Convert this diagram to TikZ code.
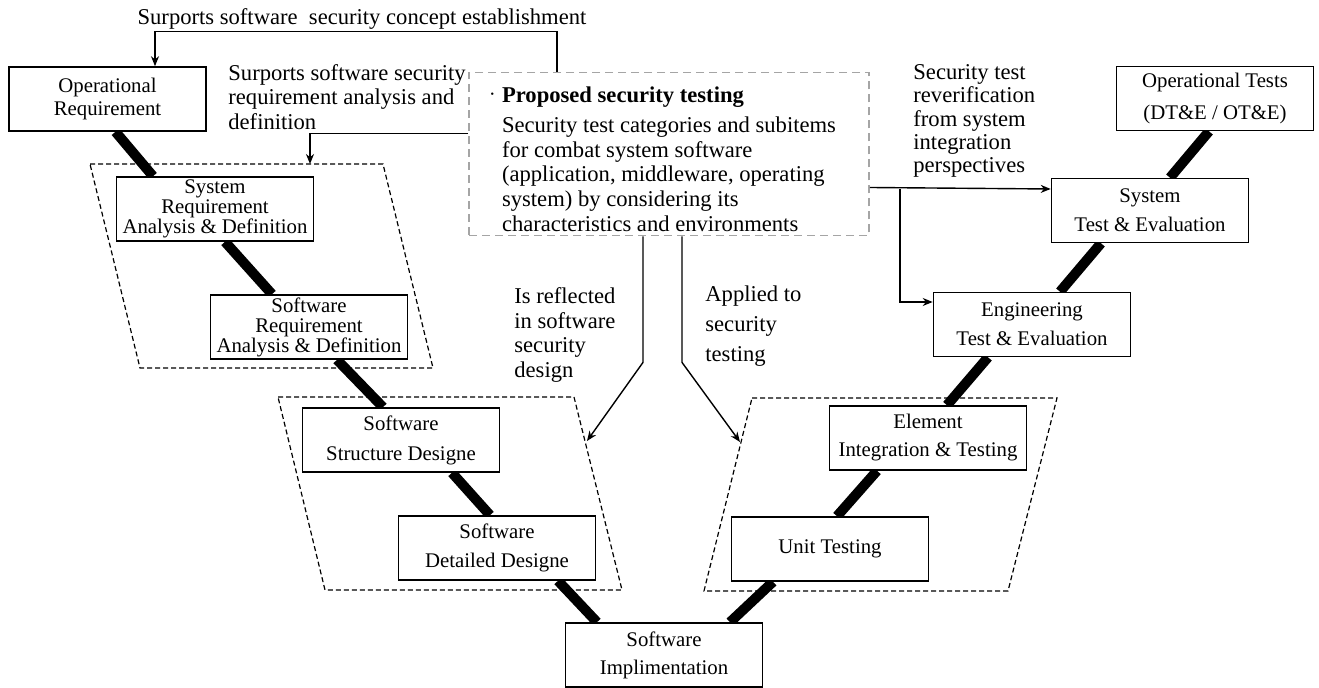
\documentclass[tikz,border=0pt]{standalone}
\usepackage{fontspec}
\setmainfont{Liberation Serif}
\usetikzlibrary{arrows.meta,positioning,calc,backgrounds}
\definecolor{propgray}{RGB}{165,165,165}

\begin{document}
\begin{tikzpicture}[
  x=0.5pt, y=-0.5pt,
  stage/.style={draw, line width=0.8pt, fill=white, align=center, minimum width=98.5pt, minimum height=32pt, inner sep=1pt, font=\fontsize{10.4}{14.5}\selectfont},
  tightstage/.style={stage, font=\fontsize{10.4}{10}\selectfont},
  note/.style={align=left, inner sep=0pt, font=\fontsize{11.3}{12.3}\selectfont},
  phase/.style={draw, dash pattern=on 2.5pt off 1.5pt, line width=0.6pt},
  proposal/.style={draw=propgray, dash pattern=on 4pt off 2.5pt, line width=0.9pt, fill=white, minimum width=200pt, minimum height=81.5pt, align=left, inner sep=0pt, font=\fontsize{11.3}{12.3}\selectfont},
  vline/.style={line width=5pt},
  arr/.style={-{Stealth[length=5pt,width=4pt]}, line width=0.7pt}
]
\useasboundingbox (0,0) rectangle (1319,688);

% left branch of the V
\node[stage, font=\fontsize{10.4}{11.5}\selectfont] (oreq) at (107.5,99) {Operational\\Requirement};
\node[tightstage] (sysreq) at (215,209) {System\\Requirement\\Analysis \& Definition};
\node[tightstage] (swreq) at (309,327) {Software\\Requirement\\Analysis \& Definition};
\node[stage, font=\fontsize{10.4}{15}\selectfont] (swstruct) at (401,440) {Software\\Structure Designe};
\node[stage] (swdetail) at (497,548) {Software\\Detailed Designe};
\node[stage, font=\fontsize{10.4}{14}\selectfont] (swimpl) at (664,655) {Software\\Implimentation};

% right branch of the V
\node[stage] (unit) at (830,549) {Unit Testing};
\node[stage, font=\fontsize{10.4}{14}\selectfont] (element) at (928,438) {Element\\Integration \& Testing};
\node[stage] (eng) at (1032,324.5) {Engineering\\Test \& Evaluation};
\node[stage] (syste) at (1150,210.5) {System\\Test \& Evaluation};
\node[stage, font=\fontsize{10.4}{16}\selectfont] (optests) at (1215,98.5) {Operational Tests\\(DT\&E / OT\&E)};

% proposal
\node[proposal] (prop) at (669,154) {\llap{\raisebox{2.5pt}{\fontsize{5}{5}\selectfont\textbullet}\hspace{4pt}}\rule{0pt}{13pt}\textbf{Proposed security testing}\\[2.75pt]
Security test categories and subitems\\
for combat system software\\
(application, middleware, operating\\
system) by considering its\\
characteristics and environments};

% annotations
\node[note, anchor=base] (concepttxt) at (362,25) {Surports software\ \ security concept establishment};
\node[note, anchor=west] (reqtxt) at (228,97) {Surports software security\\requirement analysis and\\definition};
\node[note, anchor=west] (reflecttxt) at (514,335) {Is reflected\\in software\\security\\design};
\node[note, anchor=west, font=\fontsize{11.3}{15}\selectfont] (appliedtxt) at (705,326) {Applied to\\security\\testing};
\node[note, anchor=west, font=\fontsize{11.3}{11.6}\selectfont] (reverifytxt) at (913,121) {Security test\\reverification\\from system\\integration\\perspectives};

\coordinate (reqtip) at (310,164);
\coordinate (designtip) at (587,441);
\coordinate (testtip) at (740,442);
\coordinate (rvfork) at (900,189);

\begin{scope}[on background layer]
\draw[phase] (90,164) -- (383,164) -- (433,368) -- (140,368) -- cycle;
\draw[phase] (278,397) -- (574,397) -- (622,590) -- (325,590) -- cycle;
\draw[phase] (752,398) -- (1057,398) -- (1008,591) -- (704,591) -- cycle;

\draw[vline] ([xshift=4pt]oreq.south) -- ([xshift=-31pt]sysreq.north);
\draw[vline] ([xshift=5pt]sysreq.south) -- ([xshift=-18.5pt]swreq.north);
\draw[vline] ([xshift=14pt]swreq.south) -- ([xshift=-9pt]swstruct.north);
\draw[vline] ([xshift=25.5pt]swstruct.south) -- ([xshift=-3.5pt]swdetail.north);
\draw[vline] ([xshift=30.5pt]swdetail.south) -- ([xshift=-33.5pt]swimpl.north);
\draw[vline] ([xshift=33pt]swimpl.north) -- ([xshift=-28.5pt]unit.south);
\draw[vline] ([xshift=3.5pt]unit.north) -- ([xshift=-25.5pt]element.south);
\draw[vline] ([xshift=9.5pt]element.north) -- ([xshift=-22pt]eng.south);
\draw[vline] ([xshift=14pt]eng.north) -- ([xshift=-24.5pt]syste.south);
\draw[vline] ([xshift=10pt]syste.north) -- ([xshift=-3pt]optests.south);
\end{scope}

\draw[arr] ([xshift=-56pt]prop.north) -- ++(0,-40) -| ([xshift=23.75pt]oreq.north);
\draw[arr] ([yshift=10.25pt]prop.west) -| (reqtip);
\draw[arr] ([xshift=-13pt]prop.south) -- ++(0,126) -- (designtip);
\draw[arr] ([xshift=6.5pt]prop.south) -- ++(0,126) -- (testtip);
\draw[arr] ([yshift=-16.75pt]prop.east) -- ([yshift=10.75pt]syste.west);
\draw[arr] (rvfork) |- ([yshift=11.25pt]eng.west);
\end{tikzpicture}
\end{document}
